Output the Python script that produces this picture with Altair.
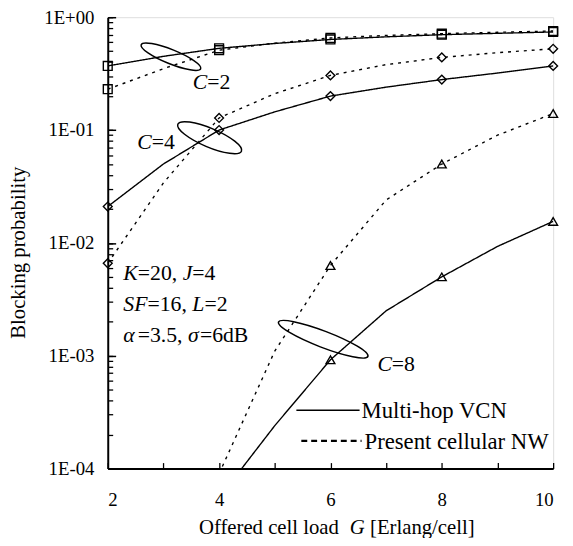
import altair as alt
import pandas as pd

# ---------------- data ----------------
G = [2, 3, 4, 5, 6, 7, 8, 9, 10]
VCN_C2 = [0.37, 0.45, 0.53, 0.585, 0.635, 0.67, 0.70, 0.72, 0.74]
NW_C2 = [0.23, 0.35, 0.51, 0.59, 0.655, 0.69, 0.715, 0.735, 0.755]
VCN_C4 = [0.021, 0.05, 0.10, 0.145, 0.20, 0.24, 0.28, 0.32, 0.37]
NW_C4 = [0.0066, 0.034, 0.128, 0.21, 0.305, 0.38, 0.44, 0.485, 0.525]
VCN_C8 = [None, None, 5.5e-5, 2.4e-4, 9.2e-4, 2.5e-3, 5.0e-3, 9.3e-3, 0.0155]
NW_C8 = [None, None, 9e-5, 1.1e-3, 6.3e-3, 0.024, 0.050, 0.090, 0.14]

SERIES = ["Multi-hop VCN", "Present cellular NW"]
C_VALUES = ["2", "4", "8"]
C_SHAPES = ["square", "diamond", "triangle-up"]

# annotation anchors (data coordinates)
LABEL_G = [3.525, 2.532, 6.843]
LABEL_P = [0.2297, 0.0685, 0.000736]
LOOP_G = [3.135, 3.83, 5.87]
LOOP_P = [0.4467, 0.0855, 0.0014]
PARAM_G = 2.28
PARAM_P = [0.0047, 0.00247, 0.00132]
Y_TICK_VALUES = [1e-4, 1e-3, 1e-2, 1e-1, 1.0]
X_LABEL_VALUES = [2, 4, 6, 8, 10]

rows = []
for c, vcn, nw in zip(C_VALUES, [VCN_C2, VCN_C4, VCN_C8], [NW_C2, NW_C4, NW_C8]):
    for g, v in zip(G, vcn):
        if v is not None:
            rows.append(dict(G=g, P=v, C=c, S=SERIES[0]))
    for g, v in zip(G, nw):
        if v is not None:
            rows.append(dict(G=g, P=v, C=c, S=SERIES[1]))
df = pd.DataFrame(rows)
marks_df = df[(df.G % 2 == 0) & (df.P >= 1e-4)]

# ---------------- style ----------------
FONT = "Liberation Serif"
W, H = 451, 457
xs = alt.Scale(domain=[2, 10], nice=False, zero=False)
ys = alt.Scale(type="log", domain=[1e-4, 1], nice=False)

REG = {' ': .25, ',': .25, '.': .25, '=': .564, 'd': .5, 'B': .667, '[': .333, ']': .333,
       'E': .611, 'r': .333, 'l': .278, 'a': .444, 'n': .5, 'g': .5, '/': .278, 'c': .444,
       'e': .444, 'O': .722, 'f': .333, 'o': .5}
ITA = {'K': .667, 'J': .444, 'S': .5, 'F': .611, 'L': .556, 'C': .667, 'G': .722,
       'α': .6, 'σ': .55}


def text_width(s, italic):
    tbl = ITA if italic else REG
    return sum(tbl.get(ch, .5) for ch in s)


y_label_expr = ("datum.value >= 0.5 ? '1E+00' : '1E-0' + "
                "format(round(-log(datum.value) / LN10), 'd')")

label_axis_y = alt.Axis(orient="left", values=Y_TICK_VALUES, labelExpr=y_label_expr,
                        ticks=False, tickSize=0, labelPadding=14, labelFont=FONT,
                        labelFontSize=19, labelColor="black", domainColor="black",
                        domainWidth=2, grid=False, title="Blocking probability",
                        titleFont=FONT, titleFontSize=21, titleFontWeight="normal",
                        titleColor="black", titleX=-80, titleY=238, titleAngle=-90,
                        titleBaseline="bottom", titleAlign="center")
label_axis_x = alt.Axis(orient="bottom", values=X_LABEL_VALUES, ticks=False, tickSize=0,
                        labelPadding=22, labelFont=FONT, labelFontSize=19,
                        labelColor="black", domainColor="black", domainWidth=2,
                        grid=False, title=None, format="d")

lines = alt.Chart(df).mark_line(clip=True, color="black", strokeWidth=1.4).encode(
    x=alt.X("G:Q", scale=xs, axis=label_axis_x),
    y=alt.Y("P:Q", scale=ys, axis=label_axis_y),
    detail="C:N",
    strokeDash=alt.StrokeDash("S:N", scale=alt.Scale(domain=SERIES, range=[[1, 0], [3, 5]]),
                              legend=None),
)

points = alt.Chart(marks_df).mark_point(filled=False, color="black", strokeWidth=1.4,
                                        size=80, opacity=1).encode(
    x=alt.X("G:Q", scale=xs, axis=None),
    y=alt.Y("P:Q", scale=ys, axis=None),
    shape=alt.Shape("C:N", scale=alt.Scale(domain=C_VALUES, range=C_SHAPES), legend=None),
)

minor_vals = [m * 10 ** e for e in range(-4, 0) for m in range(1, 10)] + [1.0]
y_minor = alt.Chart(df).mark_point(opacity=0).encode(
    x=alt.X("G:Q", scale=xs, axis=None),
    y=alt.Y("P:Q", scale=ys, axis=alt.Axis(orient="right", offset=-W, values=minor_vals,
                                           tickSize=5, tickWidth=1.3, tickColor="black",
                                           labels=False, domain=False, grid=False,
                                           title=None)),
)
y_major = alt.Chart(df).mark_point(opacity=0).encode(
    x=alt.X("G:Q", scale=xs, axis=None),
    y=alt.Y("P:Q", scale=ys, axis=alt.Axis(orient="right", offset=-W, values=Y_TICK_VALUES,
                                           tickSize=8, tickWidth=1.5, tickColor="black",
                                           labels=False, domain=False, grid=False,
                                           title=None)),
)
x_ticks = alt.Chart(df).mark_point(opacity=0).encode(
    x=alt.X("G:Q", scale=xs, axis=alt.Axis(orient="top", offset=-H, values=G, tickSize=6,
                                           tickWidth=1.3, tickColor="black", labels=False,
                                           domain=False, grid=False, title=None)),
    y=alt.Y("P:Q", scale=ys, axis=None),
)

layers = [lines, points, y_minor, y_major, x_ticks]

# loops (annotation ellipses)
LOOP_STYLE = [(4225, 0.22, 22), (4900, 0.27, 23), (9409, 0.17, 21)]
for g, p, (sz, r, ang) in zip(LOOP_G, LOOP_P, LOOP_STYLE):
    path = f"M -1 0 A 1 {r} 0 1 1 1 0 A 1 {r} 0 1 1 -1 0 Z"
    layers.append(
        alt.Chart(pd.DataFrame({"G": [g], "P": [p]})).mark_point(
            shape=path, size=sz, angle=ang, filled=False, stroke="black",
            strokeWidth=1.5, opacity=1).encode(
            x=alt.X("G:Q", scale=xs, axis=None), y=alt.Y("P:Q", scale=ys, axis=None))
    )


def seg_text(segs, size, g=None, p=None, px=None, py=None):
    out = []
    off = 0.0
    for s, it in segs:
        lead = len(s) - len(s.lstrip(" "))
        off += lead * REG[' '] * size
        body = s.strip(" ")
        mk = dict(align="left", baseline="alphabetic", font=FONT, fontSize=size,
                  fontStyle="italic" if it else "normal", color="black", dx=off)
        if g is not None:
            ch = alt.Chart(pd.DataFrame({"G": [g], "P": [p], "t": [body]})).mark_text(**mk).encode(
                x=alt.X("G:Q", scale=xs, axis=None), y=alt.Y("P:Q", scale=ys, axis=None),
                text="t:N")
        else:
            ch = alt.Chart(pd.DataFrame({"t": [body]})).mark_text(**mk).encode(
                x=alt.value(px), y=alt.value(py), text="t:N")
        out.append(ch)
        off += text_width(s.lstrip(" "), it) * size + (0.06 * size if s == "α" else 0)
    return out


for g, p, c in zip(LABEL_G, LABEL_P, C_VALUES):
    layers += seg_text([("C", True), ("=" + c, False)], 22, g=g, p=p)

PARAM_LINES = [
    [("K", True), ("=20, ", False), ("J", True), ("=4", False)],
    [("SF", True), ("=16, ", False), ("L", True), ("=2", False)],
    [("α", True), ("=3.5, ", False), ("σ", True), ("=6dB", False)],
]
for p, segs in zip(PARAM_P, PARAM_LINES):
    layers += seg_text(segs, 22, g=PARAM_G, p=p)

# x-axis title with italic G
XT = [("Offered cell load  ", False), ("G", True), (" [Erlang/cell]", False)]
xt_size = 21
xt_total = sum(text_width(s, it) for s, it in XT) * xt_size
layers += seg_text(XT, xt_size, px=232 - xt_total / 2, py=523)

# legend
leg = pd.DataFrame({"a": [0]})
layers.append(alt.Chart(leg).mark_rule(color="black", strokeWidth=1.4).encode(
    x=alt.value(191), x2=alt.value(255), y=alt.value(398)))
layers.append(alt.Chart(leg).mark_rule(color="black", strokeWidth=2.5, strokeDash=[6, 4]).encode(
    x=alt.value(196), x2=alt.value(257), y=alt.value(429)))
layers += seg_text([(SERIES[0], False)], 23, px=257, py=406)
layers += seg_text([(SERIES[1], False)], 23, px=260, py=437)

chart = alt.layer(*layers).resolve_axis(x="independent", y="independent").properties(
    width=W, height=H,
    padding={"left": 101, "top": 6, "right": 12, "bottom": 67},
    autosize=alt.AutoSizeParams(type="none"),
).configure_view(stroke="black", strokeWidth=1.5).configure(background="white")

chart.save("out.html", embed_options={"renderer": "svg", "actions": False})
